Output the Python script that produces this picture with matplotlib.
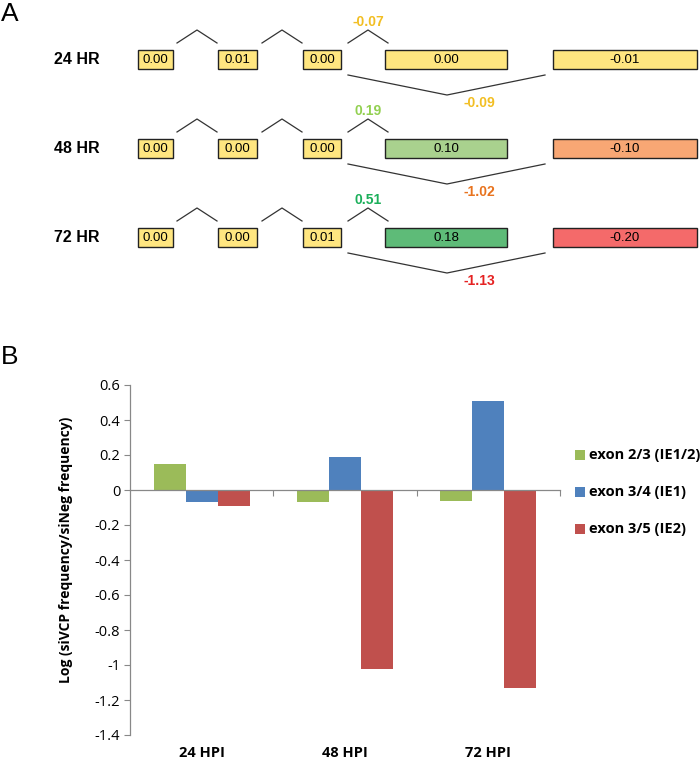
import matplotlib
matplotlib.use("Agg")
import matplotlib.pyplot as plt
from matplotlib.patches import Rectangle
import matplotlib.transforms as mtransforms

# ---------------- data ----------------
rows_A = ["24 HR", "48 HR", "72 HR"]
exon_vals = [
    ["0.00", "0.01", "0.00", "0.00", "-0.01"],
    ["0.00", "0.00", "0.00", "0.10", "-0.10"],
    ["0.00", "0.00", "0.01", "0.18", "-0.20"],
]
exon_colors = [
    ["#FFE680", "#FFE680", "#FFE680", "#FFE680", "#FFE680"],
    ["#FFE680", "#FFE680", "#FFE680", "#A9D18E", "#F8A774"],
    ["#FFE680", "#FFE680", "#FFE680", "#5EBB78", "#F46A6A"],
]
upper_labels = ["-0.07", "0.19", "0.51"]
upper_colors = ["#F2BE22", "#92D050", "#1BAF5A"]
lower_labels = ["-0.09", "-1.02", "-1.13"]
lower_colors = ["#F2BE22", "#E8731E", "#E52222"]

categories = ["24 HPI", "48 HPI", "72 HPI"]
series_names = ["exon 2/3 (IE1/2)", "exon 3/4 (IE1)", "exon 3/5 (IE2)"]
exon23 = [0.15, -0.07, -0.06]
exon34 = [-0.07, 0.19, 0.51]
exon35 = [-0.09, -1.02, -1.13]
series_colors = ["#9BBB59", "#4F81BD", "#C0504D"]
yticks = [0.6, 0.4, 0.2, 0, -0.2, -0.4, -0.6, -0.8, -1, -1.2, -1.4]

# ---------------- figure ----------------
W, H = 700, 763
fig = plt.figure(figsize=(W / 100, H / 100), dpi=100)

# Panel A drawn in pixel coordinates
axA = fig.add_axes([0, 0, 1, 1])
axA.set_xlim(0, W)
axA.set_ylim(H, 0)
axA.axis("off")

axA.text(1, 14, "A", fontsize=19, family="Liberation Sans", va="center", ha="left")
axA.text(1, 357, "B", fontsize=19, family="Liberation Sans", va="center", ha="left")

box_x = [(138, 173), (218, 257), (303, 341), (385, 507), (553, 697)]
row_y = [59.5, 148.5, 237.5]
box_h = 19
for r, yc in enumerate(row_y):
    axA.text(54, yc, rows_A[r], fontsize=11.5, fontweight="bold",
             family="Liberation Sans", va="center", ha="left")
    for i, (x0, x1) in enumerate(box_x):
        axA.add_patch(Rectangle((x0, yc - box_h / 2), x1 - x0, box_h,
                                facecolor=exon_colors[r][i], edgecolor="#222222",
                                linewidth=1.0))
        axA.text((x0 + x1) / 2, yc + 0.5, exon_vals[r][i], fontsize=9.5,
                 family="Liberation Sans", va="center", ha="center")
    # upper carets
    base = yc - 16.5
    peak = yc - 29.5
    for xs in [(177, 197, 217), (262, 282, 302), (348, 368, 388)]:
        axA.plot([xs[0], xs[1], xs[2]], [base, peak, base], color="#333333", lw=0.9)
    axA.text(368, peak - 8, upper_labels[r], fontsize=10, fontweight="bold",
             color=upper_colors[r], family="Liberation Sans", va="center", ha="center")
    # lower V
    lb = yc + 15.5
    lp = yc + 35.5
    axA.plot([348, 447, 545], [lb, lp, lb], color="#333333", lw=0.9)
    axA.text(479, lp + 8, lower_labels[r], fontsize=10, fontweight="bold",
             color=lower_colors[r], family="Liberation Sans", va="center", ha="center")

# Panel B
left, right = 130, 560
top, bottom = 385, 735
axB = fig.add_axes([left / W, 1 - bottom / H, (right - left) / W, (bottom - top) / H])
axB.set_facecolor("none")
n = len(categories)
bw = 0.224
xs = list(range(n))
for k, vals in enumerate([exon23, exon34, exon35]):
    axB.bar([x + (k - 1) * bw for x in xs], vals, width=bw, color=series_colors[k],
            label=series_names[k], zorder=2)
axB.set_xlim(-0.5, n - 0.5)
axB.set_ylim(-1.4, 0.6)
axB.set_yticks(yticks)
axB.set_yticklabels([f"{t:g}" for t in yticks], fontsize=10.5, family="Open Sans")
axB.spines["top"].set_visible(False)
axB.spines["right"].set_visible(False)
axB.spines["bottom"].set_position(("data", 0))
for s in ["left", "bottom"]:
    axB.spines[s].set_color("#888888")
    axB.spines[s].set_linewidth(0.9)
axB.set_xticks([0.5, 1.5, 2.5])
axB.set_xticklabels([])
axB.tick_params(axis="x", direction="out", length=4, color="#888888")
axB.tick_params(axis="y", direction="out", length=4, color="#888888", pad=3)
offset = axB.transData + mtransforms.ScaledTranslation(0, -0.11, fig.dpi_scale_trans)
for x, c in zip(xs, categories):
    axB.text(x, -1.4, c, transform=offset, fontsize=10.5, fontweight="bold",
             family="Open Sans", ha="center", va="top")

fig.text(66 / W, 1 - 550 / H, "Log (siVCP frequency/siNeg frequency)", rotation=90,
         fontsize=10, fontweight="bold", family="Open Sans", ha="center", va="center")

# legend
leg_y = [455, 492, 529]
for k in range(3):
    axA.add_patch(Rectangle((575, leg_y[k] - 5), 10, 10, facecolor=series_colors[k],
                            edgecolor="none"))
    axA.text(589, leg_y[k], series_names[k], fontsize=10.5, fontweight="bold",
             family="Open Sans", va="center", ha="left")

fig.savefig("out.png", dpi=100)
